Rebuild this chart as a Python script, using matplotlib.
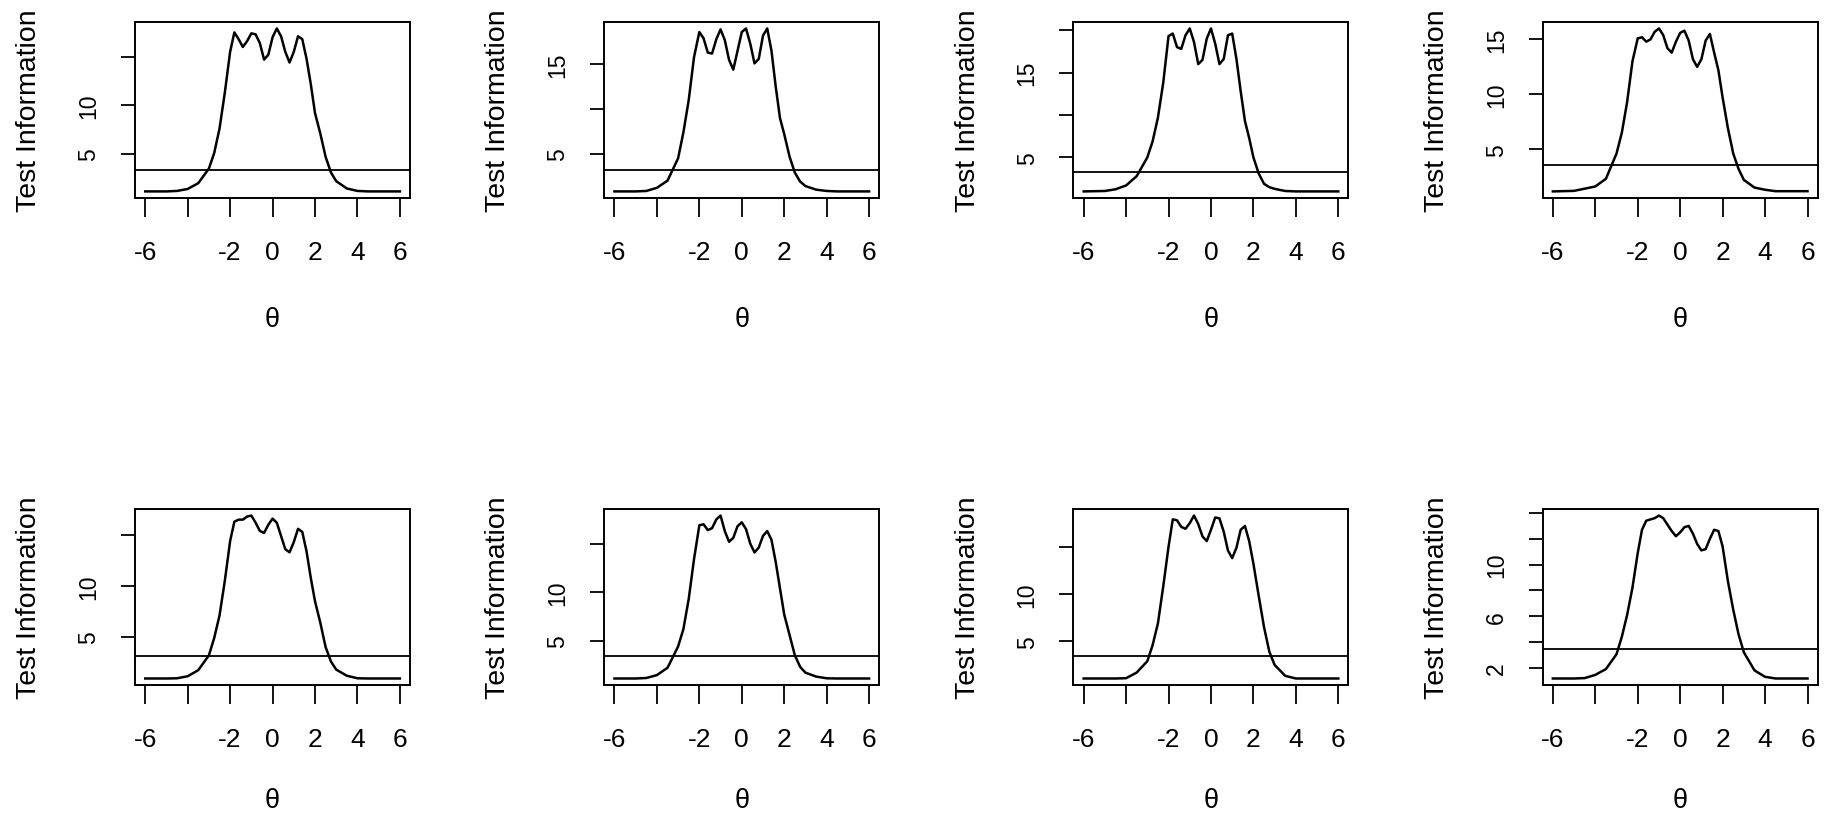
import matplotlib
matplotlib.use("Agg")
import matplotlib.pyplot as plt

plt.rcParams['font.family'] = ['Liberation Sans', 'DejaVu Sans']

# ability grid shared by all panels
theta = [-6, -5, -4.5, -4, -3.5, -3, -2.75, -2.5, -2.25, -2, -1.8, -1.6, -1.4, -1.2, -1,
         -0.8, -0.6, -0.4, -0.2, 0, 0.2, 0.4, 0.6, 0.8, 1, 1.2, 1.4, 1.6, 1.8, 2,
         2.25, 2.5, 2.75, 3, 3.5, 4, 4.5, 5, 6]

# test information (row by row)
info_1 = [1.15, 1.15, 1.2, 1.4, 2.0, 3.5, 5.1, 7.6, 11.3, 15.5, 17.5, 16.8, 16.0, 16.6, 17.4,
          17.3, 16.4, 14.7, 15.2, 17.0, 17.9, 17.1, 15.5, 14.4, 15.5, 17.1, 16.8, 14.8, 12.2, 9.2,
          7.1, 4.7, 3.1, 2.2, 1.45, 1.2, 1.15, 1.15, 1.15]
info_2 = [0.8, 0.8, 0.85, 1.2, 2.0, 4.5, 7.4, 11.0, 15.8, 18.6, 17.9, 16.3, 16.2, 17.8, 18.9,
          17.7, 15.5, 14.4, 16.5, 18.6, 19.0, 17.3, 15.1, 15.6, 18.2, 19.0, 16.5, 12.5, 9.0, 7.2,
          4.7, 2.9, 1.9, 1.4, 1.0, 0.85, 0.8, 0.8, 0.8]
info_3 = [1.0, 1.05, 1.25, 1.7, 2.8, 5.0, 6.9, 9.7, 13.8, 19.3, 19.6, 18.0, 17.8, 19.4, 20.2,
          18.6, 16.0, 16.5, 19.0, 20.2, 18.4, 16.0, 16.6, 19.4, 19.6, 16.6, 12.8, 9.3, 7.3, 5.0,
          3.1, 1.9, 1.5, 1.3, 1.05, 1.0, 1.0, 1.0, 1.0]
info_4 = [1.15, 1.2, 1.4, 1.6, 2.3, 4.6, 6.5, 9.3, 13.0, 15.1, 15.2, 14.8, 15.0, 15.7, 16.0,
          15.4, 14.2, 13.8, 14.8, 15.6, 15.8, 14.9, 13.2, 12.5, 13.2, 14.9, 15.5, 13.8, 12.2, 9.7,
          6.9, 4.6, 3.2, 2.2, 1.5, 1.3, 1.17, 1.17, 1.17]
info_5 = [0.93, 0.93, 0.95, 1.15, 1.75, 3.2, 4.9, 7.1, 10.5, 14.4, 16.3, 16.5, 16.5, 16.8, 16.9,
          16.2, 15.4, 15.2, 16.0, 16.6, 16.2, 14.9, 13.6, 13.3, 14.3, 15.6, 15.3, 13.4, 10.8, 8.5,
          6.4, 4.0, 2.6, 1.8, 1.2, 0.95, 0.93, 0.93, 0.93]
info_6 = [1.1, 1.1, 1.15, 1.45, 2.2, 4.4, 6.2, 9.3, 13.4, 16.9, 17.0, 16.4, 16.6, 17.5, 17.9,
          16.3, 15.2, 15.6, 16.8, 17.2, 16.5, 15.0, 14.1, 14.6, 15.8, 16.3, 15.4, 13.1, 10.4, 7.7,
          5.6, 3.5, 2.3, 1.7, 1.3, 1.12, 1.1, 1.1, 1.1]
info_7 = [1.07, 1.07, 1.07, 1.1, 1.7, 2.9, 4.6, 6.9, 10.8, 15.0, 17.9, 17.8, 17.1, 16.9, 17.5,
          18.3, 17.4, 16.1, 15.6, 16.8, 18.1, 18.0, 16.6, 14.6, 13.8, 14.9, 16.8, 17.2, 15.6, 13.2,
          9.8, 6.5, 3.9, 2.5, 1.35, 1.07, 1.07, 1.07, 1.07]
info_8 = [1.17, 1.17, 1.2, 1.45, 1.9, 3.05, 4.4, 6.1, 8.2, 10.9, 12.7, 13.4, 13.5, 13.6, 13.8,
          13.6, 13.1, 12.6, 12.2, 12.5, 12.9, 13.0, 12.4, 11.6, 11.1, 11.2, 12.0, 12.7, 12.6, 11.4,
          8.7, 6.5, 4.6, 3.2, 1.8, 1.3, 1.17, 1.17, 1.17]
curves = [info_1, info_2, info_3, info_4, info_5, info_6, info_7, info_8]

# horizontal reference level in each panel
cut_lines = [3.3, 3.14, 3.23, 3.56, 3.1, 3.44, 3.4, 3.43]

# y ticks per panel; R drops labels that would overlap
y_ticks = [[5, 10, 15], [5, 10, 15], [5, 10, 15, 20], [5, 10, 15],
           [5, 10, 15], [5, 10, 15], [5, 10, 15], [2, 4, 6, 8, 10, 12, 14]]
y_labels = [['5', '10', ''], ['5', '', '15'], ['5', '', '15', ''], ['5', '10', '15'],
            ['5', '10', ''], ['5', '10', ''], ['5', '10', ''], ['2', '', '6', '', '10', '', '']]
x_ticks = [-6, -4, -2, 0, 2, 4, 6]
x_labels = ['-6', '', '-2', '0', '2', '4', '6']

fig, axes = plt.subplots(2, 4, figsize=(18.25, 8.2), dpi=100)
fig.subplots_adjust(left=0.074, right=0.996, top=0.972, bottom=0.1634,
                    wspace=0.706, hspace=1.768)

for i, ax in enumerate(axes.flat):
    ax.plot(theta, curves[i], color='black', lw=1.8)
    ax.margins(x=0.04, y=0.04)
    ax.axhline(cut_lines[i], color='black', lw=1.3)

    ax.set_xticks(x_ticks)
    ax.set_xticklabels(x_labels)
    ax.set_yticks(y_ticks[i])
    ax.set_yticklabels(y_labels[i])
    ax.tick_params(axis='x', length=13.5, width=1.3, pad=17, labelsize=19)
    ax.tick_params(axis='y', length=10, width=1.3, pad=15, labelsize=16.5, labelrotation=90)
    for lab in ax.get_yticklabels():
        lab.set_va('center')
    for sp in ax.spines.values():
        sp.set_linewidth(1.4)

    ax.set_xlabel('θ', fontsize=19.5)
    ax.xaxis.set_label_coords(0.5, -0.69 if i < 4 else -0.655)
    ax.xaxis.label.set_va('center')
    ax.set_ylabel('Test Information', fontsize=20.5)
    ax.yaxis.set_label_coords(-0.385, 0.5)
    ax.yaxis.label.set_va('center')

fig.savefig('out.png', dpi=100)
